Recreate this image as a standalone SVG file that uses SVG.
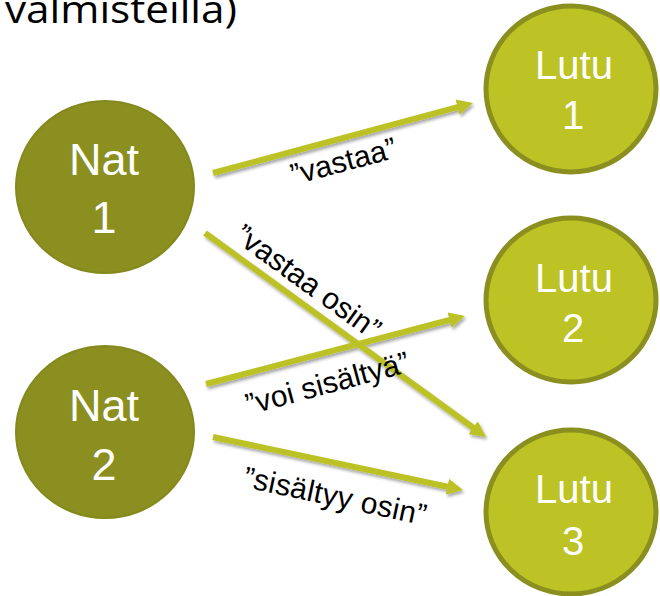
<svg xmlns="http://www.w3.org/2000/svg" width="660" height="596" viewBox="0 0 660 596">
  <defs>
    <filter id="shadow" x="-20%" y="-20%" width="140%" height="140%">
      <feDropShadow dx="1.5" dy="2.5" stdDeviation="1.8" flood-color="#000" flood-opacity="0.35"/>
    </filter>
    <marker id="arrow" markerUnits="userSpaceOnUse" markerWidth="16" markerHeight="16" refX="4" refY="8" orient="auto">
      <path d="M0,0 L16,8 L0,16 z" fill="#BCC225"/>
    </marker>
  </defs>
  <style>
    .nat { fill: #8A8F1F; stroke: #84891D; stroke-width: 2; }
    .lutu { fill: #BDC225; stroke: #8A8F1F; stroke-width: 5; }
    .ntext { font-family: "Liberation Sans", Arial, sans-serif; font-size: 45px; fill: #FFFFFF; text-anchor: middle; }
    .ltext { font-family: "Liberation Sans", Arial, sans-serif; font-size: 40px; fill: #FFFFFF; text-anchor: middle; }
    .conn { stroke: #BCC225; stroke-width: 6; fill: none; marker-end: url(#arrow); }
    .lbl { font-family: "Liberation Sans", Arial, sans-serif; font-size: 30px; fill: #000000; text-anchor: middle; }
    .title { font-family: "Open Sans", "Liberation Sans", sans-serif; font-size: 39px; fill: #000000; }
  </style>
  <rect width="660" height="596" fill="#FFFFFF"/>
  <text class="title" x="5" y="23" textLength="232" lengthAdjust="spacingAndGlyphs">valmisteilla)</text>

  <g id="connectors" filter="url(#shadow)">
    <line class="conn" x1="213" y1="173" x2="461.4" y2="106.1"/>
    <line class="conn" x1="205" y1="233" x2="476.3" y2="430"/>
    <line class="conn" x1="206" y1="384" x2="453.4" y2="319"/>
    <line class="conn" x1="213" y1="437" x2="451.3" y2="487.5"/>
  </g>

  <g id="labels">
    <text class="lbl" x="346" y="171" transform="rotate(-15 346 171)">”vastaa”</text>
    <text class="lbl" x="302" y="290" transform="rotate(36 302 290)" textLength="172">”vastaa osin”</text>
    <text class="lbl" x="330" y="393" transform="rotate(-15 330 393)" textLength="168">”voi sisältyä”</text>
    <text class="lbl" x="333" y="506" transform="rotate(12 333 506)" textLength="186">”sisältyy osin”</text>
  </g>

  <g id="nat1">
    <ellipse class="nat" cx="105" cy="187" rx="89" ry="86"/>
    <text class="ntext" x="104" y="175">Nat</text>
    <text class="ntext" x="104" y="233">1</text>
  </g>
  <g id="nat2">
    <ellipse class="nat" cx="105" cy="432" rx="89" ry="86"/>
    <text class="ntext" x="104" y="421">Nat</text>
    <text class="ntext" x="104" y="480">2</text>
  </g>
  <g id="lutu1">
    <ellipse class="lutu" cx="571" cy="89" rx="85" ry="83"/>
    <text class="ltext" x="574" y="79">Lutu</text>
    <text class="ltext" x="573" y="129">1</text>
  </g>
  <g id="lutu2">
    <ellipse class="lutu" cx="571" cy="300" rx="85" ry="82"/>
    <text class="ltext" x="574" y="292">Lutu</text>
    <text class="ltext" x="573" y="342">2</text>
  </g>
  <g id="lutu3">
    <ellipse class="lutu" cx="571" cy="512" rx="85" ry="82"/>
    <text class="ltext" x="574" y="503">Lutu</text>
    <text class="ltext" x="573" y="555">3</text>
  </g>
</svg>
